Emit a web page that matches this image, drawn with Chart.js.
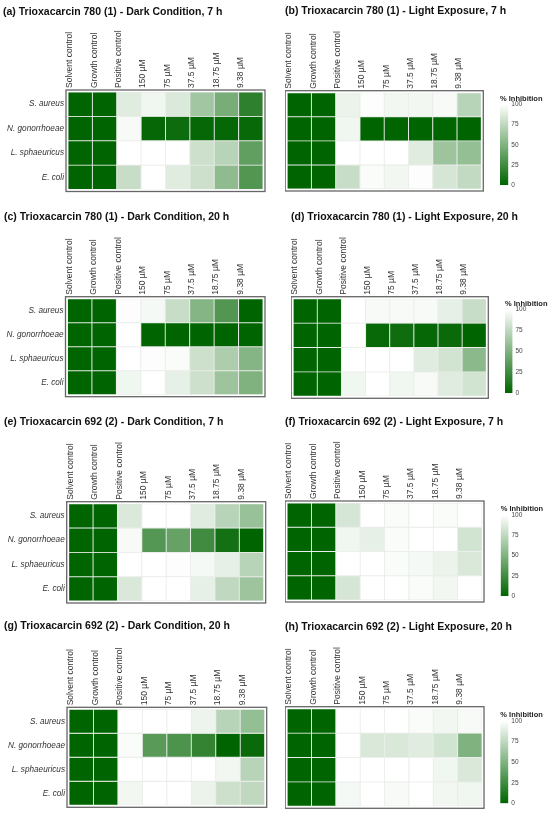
<!DOCTYPE html>
<html>
<head>
<meta charset="utf-8">
<script src="https://cdn.jsdelivr.net/npm/chart.js@4.4.1/dist/chart.umd.min.js"></script>
<style>
  body { margin: 0; background: #fff; width: 550px; height: 815px; position: relative; overflow: hidden; }
  canvas { position: absolute; }
</style>
</head>
<body>
<canvas id="pa"></canvas><canvas id="pb"></canvas>
<canvas id="pc"></canvas><canvas id="pd"></canvas>
<canvas id="pe"></canvas><canvas id="pf"></canvas>
<canvas id="pg"></canvas><canvas id="ph"></canvas>
<canvas id="lb"></canvas><canvas id="ld"></canvas>
<canvas id="lf"></canvas><canvas id="lh"></canvas>
<script>
const columns = ['Solvent control', 'Growth control', 'Positive control', '150 µM', '75 µM', '37.5 µM', '18.75 µM', '9.38 µM'];
const organisms = ['S. aureus', 'N. gonorrhoeae', 'L. sphaeuricus', 'E. coli'];
const legendTicks = [0, 25, 50, 75, 100];

// % inhibition, one row per organism (same order as organisms)
const dark780_7h = [
  [0, 0, 88, 94, 86, 63, 47, 18],
  [0, 0, 97, 2, 5, 2, 2, 3],
  [0, 0, 100, 100, 100, 80, 72, 38],
  [0, 0, 78, 100, 88, 80, 56, 32]
];
const light780_7h = [
  [0, 0, 92, 99, 95, 95, 97, 72],
  [0, 0, 94, 0, 0, 0, 0, 0],
  [0, 0, 100, 100, 100, 88, 62, 58],
  [0, 0, 78, 98, 95, 99, 84, 76]
];
const dark780_20h = [
  [0, 0, 99, 96, 78, 52, 32, 0],
  [0, 0, 100, 0, 0, 0, 0, 0],
  [0, 0, 100, 99, 98, 80, 68, 52],
  [0, 0, 94, 100, 90, 80, 62, 50]
];
const light780_20h = [
  [0, 0, 100, 97, 97, 97, 90, 78],
  [0, 0, 100, 3, 6, 2, 4, 0],
  [0, 0, 100, 100, 100, 88, 82, 55],
  [0, 0, 94, 100, 94, 97, 88, 82]
];
const dark692_7h = [
  [0, 0, 86, 100, 100, 88, 72, 60],
  [0, 0, 97, 33, 40, 25, 8, 0],
  [0, 0, 100, 100, 99, 96, 90, 72],
  [0, 0, 85, 100, 100, 90, 75, 62]
];
const light692_7h = [
  [0, 0, 84, 100, 98, 100, 98, 100],
  [0, 0, 94, 90, 98, 100, 100, 82],
  [0, 0, 100, 100, 98, 96, 92, 85],
  [0, 0, 84, 100, 100, 98, 95, 100]
];
const dark692_20h = [
  [0, 0, 100, 100, 100, 93, 72, 58],
  [0, 0, 98, 35, 30, 20, 0, 4],
  [0, 0, 100, 100, 100, 100, 95, 72],
  [0, 0, 95, 100, 100, 92, 80, 75]
];
const light692_20h = [
  [0, 0, 100, 100, 100, 98, 95, 97],
  [0, 0, 100, 85, 85, 88, 82, 50],
  [0, 0, 100, 100, 100, 100, 94, 85],
  [0, 0, 96, 100, 97, 100, 95, 94]
];

const FONT = "'Liberation Sans', Arial, sans-serif";
Chart.defaults.font.family = FONT;

// 0 -> darkgreen, 100 -> white
function cellColor(v) {
  const t = v / 100;
  const r = Math.round(255 * t);
  const g = Math.round(100 + 155 * t);
  const b = Math.round(255 * t);
  return `rgb(${r},${g},${b})`;
}

// grey box round the heatmap
const framePlugin = {
  id: 'frame',
  afterDatasetsDraw(chart) {
    const { ctx, chartArea: a } = chart;
    ctx.save();
    ctx.strokeStyle = '#666';
    ctx.lineWidth = 1.3;
    ctx.strokeRect(a.left - 2, a.top - 2, a.right - a.left + 4, a.bottom - a.top + 4);
    ctx.restore();
  }
};

function place(canvas, p) {
  canvas.width = p.width;
  canvas.height = p.height;
  canvas.style.left = p.left + 'px';
  canvas.style.top = p.top + 'px';
}

// p.left is also where the title starts
function heatmap(id, title, values, showRows, p) {
  const canvas = document.getElementById(id);
  place(canvas, p);
  const titleSize = 10.5;
  const padTop = p.ty - p.top - titleSize * 0.6;
  const titleH = titleSize * 1.2 + padTop;

  new Chart(canvas, {
    type: 'bar',
    data: {
      labels: columns,
      datasets: organisms.map((org, r) => ({
        label: org,
        data: columns.map(() => [r, r + 1]),
        backgroundColor: values[r].map(cellColor),
        borderColor: 'rgba(232,236,232,0.95)',
        borderWidth: 0.8,
        borderSkipped: false,
        grouped: false,
        barPercentage: 1,
        categoryPercentage: 1
      }))
    },
    options: {
      responsive: false,
      animation: false,
      layout: {
        padding: { left: 0, right: 0, top: 0, bottom: p.top + p.height - p.y1 }
      },
      plugins: {
        legend: { display: false },
        tooltip: { enabled: false },
        title: {
          display: true,
          text: title,
          align: 'start',
          color: '#111',
          font: { size: titleSize, weight: 'bold' },
          padding: { top: padTop, bottom: 0 }
        }
      },
      scales: {
        x: {
          position: 'top',
          grid: { display: false, drawTicks: false },
          border: { display: false },
          ticks: { autoSkip: false, minRotation: 90, maxRotation: 90, padding: 4, color: '#333', font: { size: 8.5 } },
          afterFit: s => { s.height = p.y0 - (p.top + titleH); }
        },
        y: {
          min: 0,
          max: 4,
          reverse: true,
          grid: { display: false, drawTicks: false },
          border: { display: false },
          afterBuildTicks: s => { s.ticks = organisms.map((o, i) => ({ value: i + 0.5 })); },
          ticks: {
            display: showRows,
            padding: 4,
            color: '#333',
            font: { size: 8.2, style: 'italic' },
            callback: (v, i) => organisms[i]
          },
          afterFit: s => { s.width = p.x0 - p.left; }
        },
        // empty right axis, only keeps room beside the grid
        yr: {
          type: 'linear',
          position: 'right',
          grid: { display: false, drawTicks: false },
          border: { display: false },
          ticks: { display: false },
          afterFit: s => { s.width = p.left + p.width - p.x1; }
        }
      }
    },
    plugins: [framePlugin]
  });
}

function colorbar(id, p) {
  const canvas = document.getElementById(id);
  place(canvas, p);
  const titleSize = 7.5;
  const padTop = p.ty - p.top - titleSize * 0.6;
  const padBottom = p.y0 - (p.top + padTop + titleSize * 1.2);

  new Chart(canvas, {
    type: 'bar',
    data: {
      labels: [''],
      datasets: [{
        data: [[0, 100]],
        backgroundColor: ctx => {
          const a = ctx.chart.chartArea;
          if (!a) return cellColor(0);
          const g = ctx.chart.ctx.createLinearGradient(0, a.bottom, 0, a.top);
          legendTicks.forEach(v => g.addColorStop(v / 100, cellColor(v)));
          return g;
        },
        borderWidth: 0,
        barPercentage: 1,
        categoryPercentage: 1
      }]
    },
    options: {
      responsive: false,
      animation: false,
      layout: {
        padding: { left: p.x0 - p.left, right: 0, top: 0, bottom: p.top + p.height - p.y1 }
      },
      plugins: {
        legend: { display: false },
        tooltip: { enabled: false },
        title: {
          display: true,
          text: '% Inhibition',
          align: 'start',
          color: '#222',
          font: { size: titleSize, weight: 'bold' },
          padding: { top: padTop, bottom: padBottom }
        }
      },
      scales: {
        x: { display: false },
        y: {
          position: 'right',
          min: 0,
          max: 100,
          grid: { display: false, drawTicks: false },
          border: { display: false },
          afterBuildTicks: s => { s.ticks = legendTicks.map(v => ({ value: v })); },
          ticks: { padding: 3, color: '#444', font: { size: 6.5 } },
          afterFit: s => { s.width = p.left + p.width - p.x1; }
        }
      }
    }
  });
}

heatmap('pa', '(a) Trioxacarcin 780 (1) - Dark Condition, 7 h', dark780_7h, true,
  { left: 3, top: 0, width: 272, height: 200, ty: 12, x0: 68, x1: 263, y0: 92, y1: 189.5 });
heatmap('pb', '(b) Trioxacarcin 780 (1) - Light Exposure, 7 h', light780_7h, false,
  { left: 285, top: 0, width: 265, height: 200, ty: 11, x0: 286.3, x1: 481.3, y0: 92.7, y1: 189 });
heatmap('pc', '(c) Trioxacarcin 780 (1) - Dark Condition, 20 h', dark780_20h, true,
  { left: 4, top: 200, width: 271, height: 205, ty: 216.7, x0: 67.5, x1: 263, y0: 298.7, y1: 394.7 });
heatmap('pd', '(d) Trioxacarcin 780 (1) - Light Exposure, 20 h', light780_20h, false,
  { left: 291, top: 200, width: 259, height: 205, ty: 216.7, x0: 291.3, x1: 486.3, y0: 298.7, y1: 396.3 });
heatmap('pe', '(e) Trioxacarcin 692 (2) - Dark Condition, 7 h', dark692_7h, true,
  { left: 4, top: 405, width: 271, height: 205, ty: 421.7, x0: 68.7, x1: 263.7, y0: 503.7, y1: 601 });
heatmap('pf', '(f) Trioxacarcin 692 (2) - Light Exposure, 7 h', light692_7h, false,
  { left: 285, top: 405, width: 265, height: 205, ty: 421.7, x0: 286.3, x1: 482, y0: 503, y1: 600 });
heatmap('pg', '(g) Trioxacarcin 692 (2) - Dark Condition, 20 h', dark692_20h, true,
  { left: 4, top: 610, width: 271, height: 205, ty: 626, x0: 69, x1: 264.7, y0: 709.3, y1: 805.3 });
heatmap('ph', '(h) Trioxacarcin 692 (2) - Light Exposure, 20 h', light692_20h, false,
  { left: 284.5, top: 610, width: 265.5, height: 205, ty: 626.7, x0: 286.3, x1: 482, y0: 708.7, y1: 806.3 });

colorbar('lb', { left: 497, top: 88, width: 53, height: 104, ty: 99, x0: 500, x1: 508.3, y0: 104.5, y1: 187 });
colorbar('ld', { left: 502, top: 292, width: 48, height: 108, ty: 304, x0: 505, x1: 512.5, y0: 309.5, y1: 393 });
colorbar('lf', { left: 497, top: 497, width: 53, height: 106, ty: 509, x0: 500.7, x1: 508.5, y0: 515, y1: 597.5 });
colorbar('lh', { left: 497, top: 703, width: 53, height: 108, ty: 714.5, x0: 500.3, x1: 508.3, y0: 721, y1: 803.3 });
</script>
</body>
</html>
